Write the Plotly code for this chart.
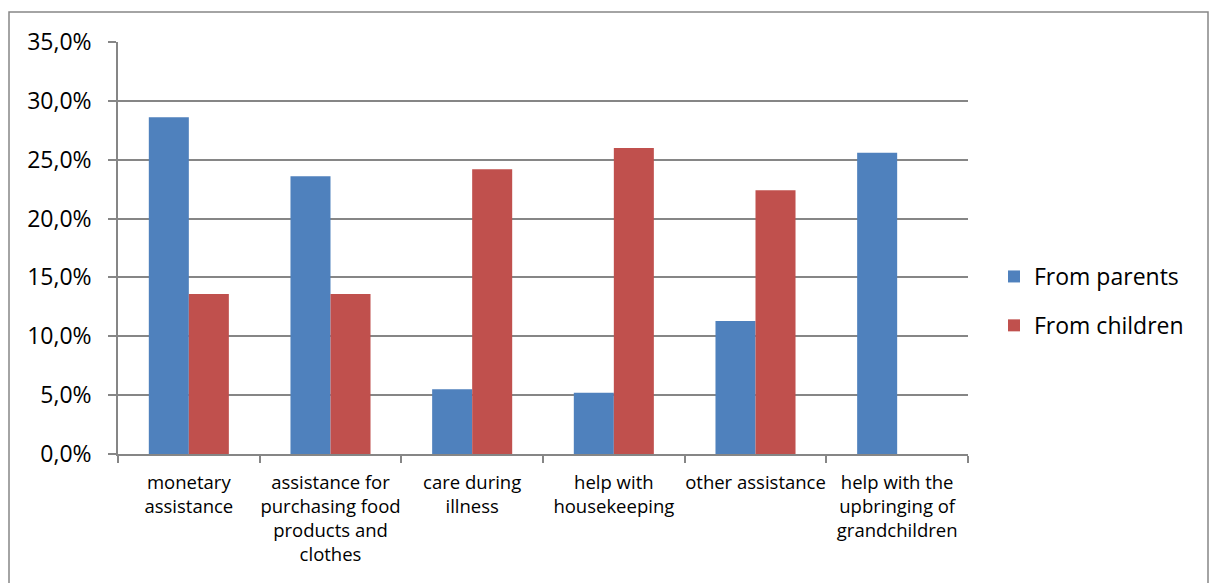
import plotly.graph_objects as go

categories = [
    "monetary<br>assistance",
    "assistance for<br>purchasing food<br>products and<br>clothes",
    "care during<br>illness",
    "help with<br>housekeeping",
    "other assistance",
    "help with the<br>upbringing of<br>grandchildren",
]
from_parents = [28.6, 23.6, 5.5, 5.2, 11.3, 25.6]
from_children = [13.6, 13.6, 24.2, 26.0, 22.4, None]
y_ticks = [0, 5, 10, 15, 20, 25, 30, 35]
y_tick_labels = ["0,0%", "5,0%", "10,0%", "15,0%", "20,0%", "25,0%", "30,0%", "35,0%"]

FONT = "Open Sans, Noto Sans, sans-serif"
W, H = 1214, 583
L, R, T, B = 118, 246, 42, 129

fig = go.Figure()
fig.add_trace(go.Bar(name="From parents", x=categories, y=from_parents,
                     marker=dict(color="#4F81BD", line=dict(width=0)),
                     legendgroup="a"))
fig.add_trace(go.Bar(name="From children", x=categories, y=from_children,
                     marker=dict(color="#C0504D", line=dict(width=0)),
                     legendgroup="b"))

pw = W - L - R
ph = H - T - B
def px2x(px):
    return (px - L) / pw
def py2y(py):
    return (H - B - py) / ph

fig.update_layout(
    width=W, height=H,
    margin=dict(l=L, r=R, t=T, b=B, pad=0),
    paper_bgcolor="white", plot_bgcolor="white",
    font=dict(family=FONT, color="#000000"),
    barmode="group",
    bargap=0.435, bargroupgap=0,
    showlegend=True,
    legend=dict(x=px2x(994), y=py2y(301), xanchor="left", yanchor="middle",
                font=dict(size=23, family=FONT), traceorder="grouped",
                tracegroupgap=16, itemwidth=30, bgcolor="rgba(0,0,0,0)"),
    xaxis=dict(type="category", showgrid=False, showline=True,
               linecolor="#868686", linewidth=1.5,
               ticks="outside", tickson="boundaries", ticklen=7,
               tickcolor="#868686", tickwidth=1.5,
               tickfont=dict(size=18.5, family=FONT), tickangle=0,
               ticklabelstandoff=11),
    yaxis=dict(range=[0, 35], tickvals=y_ticks, ticktext=y_tick_labels,
               showgrid=True, gridcolor="#868686", gridwidth=1.5,
               showline=True, linecolor="#868686", linewidth=1.5,
               ticks="outside", ticklen=8, tickcolor="#868686", tickwidth=1.5,
               tickfont=dict(size=23, family=FONT), zeroline=False,
               ticklabelstandoff=12),
    shapes=[dict(type="rect", xref="paper", yref="paper",
                 x0=px2x(9), x1=px2x(1208), y0=py2y(590), y1=py2y(12),
                 line=dict(color="#868686", width=1.5), fillcolor="rgba(0,0,0,0)",
                 layer="below")],
)

fig.write_html("out.html")
